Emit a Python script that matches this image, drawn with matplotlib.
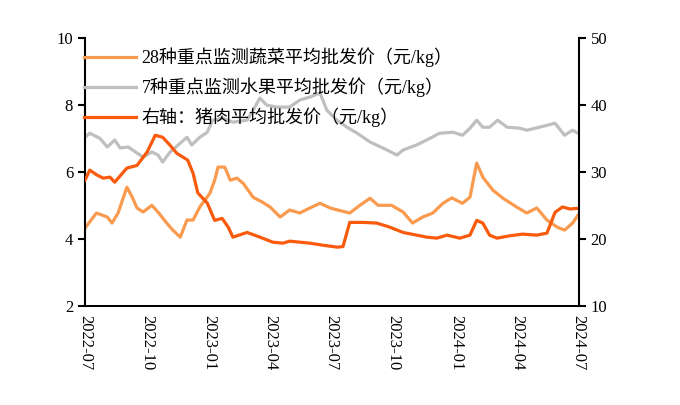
import matplotlib
matplotlib.use("Agg")
import matplotlib.pyplot as plt
import matplotlib.dates as mdates
import pandas as pd

plt.rcParams['font.family'] = ['Liberation Serif', 'Noto Sans CJK SC']

# 28种重点监测蔬菜平均批发价（左轴）
veg_dates = ['2022-07-01', '2022-07-18', '2022-08-03', '2022-08-10', '2022-08-19', '2022-09-01',
             '2022-09-09', '2022-09-16', '2022-09-25', '2022-10-08', '2022-10-17', '2022-10-30',
             '2022-11-08', '2022-11-19', '2022-11-29', '2022-12-08', '2022-12-18', '2023-01-02',
             '2023-01-09', '2023-01-14', '2023-01-24', '2023-02-01', '2023-02-11', '2023-02-20',
             '2023-03-07', '2023-03-21', '2023-04-01', '2023-04-16', '2023-04-30', '2023-05-15',
             '2023-05-30', '2023-06-14', '2023-06-29', '2023-07-10', '2023-07-28', '2023-08-12',
             '2023-08-27', '2023-09-08', '2023-09-28', '2023-10-15', '2023-10-29', '2023-11-13',
             '2023-11-28', '2023-12-13', '2023-12-26', '2024-01-11', '2024-01-22', '2024-02-01',
             '2024-02-10', '2024-02-25', '2024-03-11', '2024-03-31', '2024-04-15', '2024-04-30',
             '2024-05-15', '2024-05-30', '2024-06-10', '2024-06-22', '2024-06-30']
veg_price = [4.33, 4.78, 4.66, 4.48, 4.78, 5.55,
             5.25, 4.93, 4.81, 5.01, 4.81, 4.48,
             4.27, 4.06, 4.57, 4.57, 4.96, 5.37,
             5.76, 6.15, 6.15, 5.76, 5.82, 5.67,
             5.25, 5.10, 4.96, 4.66, 4.87, 4.78,
             4.93, 5.07, 4.93, 4.87, 4.78, 5.01,
             5.22, 5.01, 5.01, 4.81, 4.48, 4.66,
             4.78, 5.07, 5.23, 5.07, 5.25, 6.27,
             5.85, 5.46, 5.22, 4.96, 4.78, 4.93,
             4.57, 4.36, 4.27, 4.48, 4.72]

# 7种重点监测水果平均批发价（左轴）
fruit_dates = ['2022-07-01', '2022-07-08', '2022-07-23', '2022-08-03', '2022-08-14', '2022-08-22',
               '2022-09-03', '2022-09-16', '2022-09-25', '2022-10-08', '2022-10-17', '2022-10-24',
               '2022-11-04', '2022-11-16', '2022-11-29', '2022-12-06', '2022-12-18', '2022-12-29',
               '2023-01-06', '2023-01-21', '2023-02-05', '2023-02-26', '2023-03-07', '2023-03-17',
               '2023-03-27', '2023-04-11', '2023-04-30', '2023-05-15', '2023-05-30', '2023-06-14',
               '2023-06-24', '2023-07-09', '2023-07-24', '2023-08-08', '2023-08-27', '2023-09-15',
               '2023-10-06', '2023-10-15', '2023-11-04', '2023-11-24', '2023-12-08', '2023-12-28',
               '2024-01-11', '2024-01-22', '2024-02-01', '2024-02-10', '2024-02-20', '2024-03-03',
               '2024-03-17', '2024-04-05', '2024-04-15', '2024-05-04', '2024-05-27', '2024-06-10',
               '2024-06-22', '2024-06-30']
fruit_price = [7.04, 7.16, 7.01, 6.75, 6.96, 6.72,
               6.75, 6.57, 6.45, 6.60, 6.51, 6.30,
               6.60, 6.81, 7.04, 6.81, 7.04, 7.19,
               7.55, 7.61, 7.49, 7.55, 7.85, 8.21,
               8.00, 7.94, 7.94, 8.15, 8.24, 8.36,
               7.85, 7.55, 7.34, 7.16, 6.90, 6.72,
               6.51, 6.66, 6.81, 7.01, 7.16, 7.19,
               7.10, 7.31, 7.55, 7.34, 7.34, 7.55,
               7.34, 7.31, 7.25, 7.34, 7.46, 7.10,
               7.25, 7.16]

# 猪肉平均批发价（右轴）
pork_dates = ['2022-07-01', '2022-07-08', '2022-07-19', '2022-07-28', '2022-08-07', '2022-08-14',
              '2022-09-01', '2022-09-16', '2022-10-01', '2022-10-13', '2022-10-24', '2022-11-04',
              '2022-11-14', '2022-11-30', '2022-12-08', '2022-12-15', '2022-12-29', '2023-01-09',
              '2023-01-20', '2023-01-29', '2023-02-05', '2023-02-26', '2023-03-17', '2023-04-05',
              '2023-04-20', '2023-04-30', '2023-05-30', '2023-06-18', '2023-07-10', '2023-07-18',
              '2023-07-28', '2023-08-16', '2023-09-06', '2023-09-25', '2023-10-15', '2023-11-04',
              '2023-11-19', '2023-12-04', '2023-12-19', '2024-01-07', '2024-01-22', '2024-02-01',
              '2024-02-10', '2024-02-20', '2024-03-02', '2024-03-21', '2024-04-09', '2024-04-30',
              '2024-05-15', '2024-05-27', '2024-06-07', '2024-06-18', '2024-06-30']
pork_price = [28.8, 30.3, 29.55, 29.1, 29.25, 28.5,
              30.6, 31.0, 33.0, 35.5, 35.2, 34.0,
              32.8, 31.8, 29.85, 26.9, 25.4, 22.8,
              23.1, 21.8, 20.3, 21.0, 20.3, 19.55,
              19.4, 19.7, 19.4, 19.1, 18.8, 18.9,
              22.5, 22.5, 22.4, 21.8, 21.0, 20.6,
              20.3, 20.15, 20.6, 20.15, 20.6, 22.8,
              22.4, 20.6, 20.15, 20.5, 20.75, 20.6,
              20.9, 24.0, 24.8, 24.5, 24.6]

labels = ['28种重点监测蔬菜平均批发价（元/kg）',
          '7种重点监测水果平均批发价（元/kg）',
          '右轴：猪肉平均批发价（元/kg）']

fig = plt.figure(figsize=(6.8, 4.05), dpi=100)
ax = fig.add_axes([0.125, 0.244, 0.726, 0.662])
ax2 = ax.twinx()

l1, = ax.plot(pd.to_datetime(veg_dates), veg_price, color='#F99A4E', lw=2.3)
l2, = ax.plot(pd.to_datetime(fruit_dates), fruit_price, color='#BFBFBF', lw=2.3)
l3, = ax2.plot(pd.to_datetime(pork_dates), pork_price, color='#F95A0C', lw=2.3)

ax.set_xlim(pd.Timestamp('2022-07-01'), pd.Timestamp('2024-07-01'))
ax.set_ylim(2, 10)
ax.set_yticks([2, 4, 6, 8, 10])
ax2.set_ylim(10, 50)
ax2.set_yticks([10, 20, 30, 40, 50])

ax.xaxis.set_major_locator(mdates.MonthLocator(bymonth=[1, 4, 7, 10]))
ax.xaxis.set_major_formatter(mdates.DateFormatter('%Y-%m'))
for lbl in ax.get_xticklabels():
    lbl.set_rotation(-90)

for a in (ax, ax2):
    a.spines['top'].set_visible(False)
    a.spines['left'].set_linewidth(1.5)
    a.spines['right'].set_linewidth(1.5)
    a.spines['bottom'].set_linewidth(1.3)
    a.tick_params(axis='y', labelsize=12, length=5, width=1.5, direction='out')
    a.tick_params(axis='x', labelsize=12, length=0, pad=6)
ax.spines['right'].set_visible(False)
ax2.spines['left'].set_visible(False)

ax2.legend([l1, l2, l3], labels, loc='upper left', bbox_to_anchor=(-0.002, 0.965),
           frameon=False, fontsize=13, handlelength=2.9, handletextpad=0.28,
           labelspacing=0.58, borderaxespad=0, borderpad=0)

fig.savefig('out.png', dpi=100)
